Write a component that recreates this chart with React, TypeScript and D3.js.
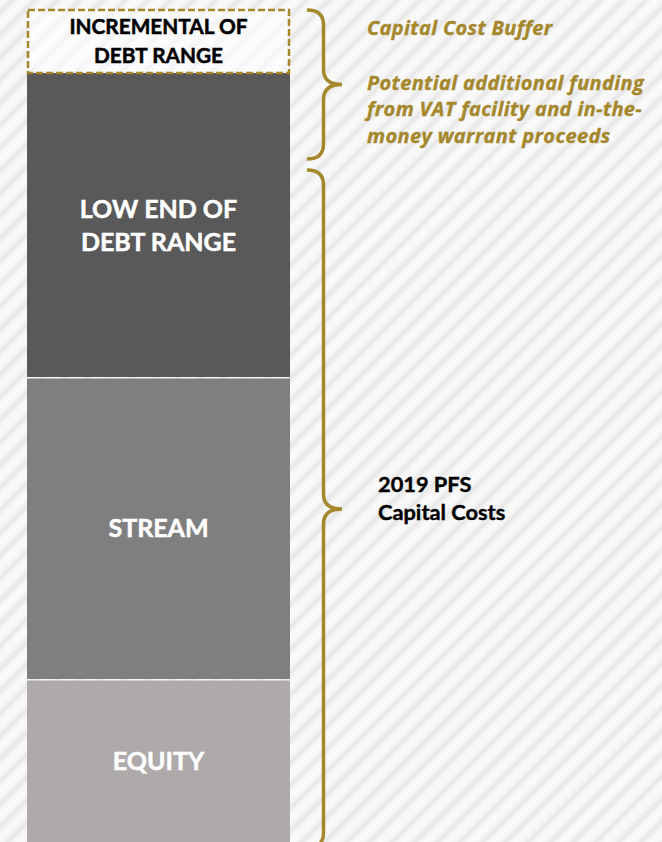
import React from "react";
import * as d3 from "d3";

const W = 662;
const H = 842;

// Stacked funding segments (bottom to top), in arbitrary capital units
const segments = ["EQUITY", "STREAM", "LOW END OF DEBT RANGE", "INCREMENTAL OF DEBT RANGE"];
const segmentValues = [163, 302, 304, 64];
const segmentLabels = [["EQUITY"], ["STREAM"], ["LOW END OF", "DEBT RANGE"], ["INCREMENTAL OF", "DEBT RANGE"]];
const segmentColors = ["#AEAAAA", "#7F7F7F", "#595959", "none"];
const segmentText = ["#FFFFFF", "#FFFFFF", "#FFFFFF", "#000000"];

// Brace annotations: [from segment index, to segment index]
const braceRanges = [
  [3, 3],
  [0, 2],
];
const braceTexts = [
  ["Capital Cost Buffer", "", "Potential additional funding", "from VAT facility and in-the-", "money warrant proceeds"],
  ["2019 PFS", "Capital Costs"],
];

const GOLD = "#A5872C";

export default function App() {
  const total = d3.sum(segmentValues);
  const y = d3.scaleLinear().domain([0, total]).range([H, 9]);
  const x = d3.scaleBand().domain(["bar"]).range([27, 290]).padding(0);
  const bx = x("bar")!;
  const bw = x.bandwidth();
  const cx = bx + bw / 2;

  const cum = [0, ...d3.cumsum(segmentValues)];
  const stacks = segmentValues.map((v, i) => ({
    y0: y(cum[i]),
    y1: y(cum[i + 1]),
  }));

  const bracePath = (top: number, bottom: number, x0: number, x1: number, x2: number, r: number) => {
    const mid = (top + bottom) / 2;
    const p = d3.path();
    p.moveTo(x0, top);
    p.quadraticCurveTo(x1, top, x1, top + r);
    p.lineTo(x1, mid - r);
    p.quadraticCurveTo(x1, mid, x2, mid);
    p.quadraticCurveTo(x1, mid, x1, mid + r);
    p.lineTo(x1, bottom - r);
    p.quadraticCurveTo(x1, bottom, x0, bottom);
    return p.toString();
  };

  const font = "Lato, 'Open Sans', sans-serif";
  const italicFont = "'Open Sans', Lato, sans-serif";

  return (
    <div style={{ position: "absolute", left: 0, top: 0, width: W, height: H, overflow: "hidden" }}>
      <svg width={W} height={H} style={{ display: "block" }}>
        <defs>
          <linearGradient id="stripeGrad" x1="0" x2="1" y1="0" y2="0">
            <stop offset="0" stopColor="#FAFAFA" />
            <stop offset="0.3" stopColor="#F6F6F6" />
            <stop offset="0.55" stopColor="#E6E6E6" />
            <stop offset="0.8" stopColor="#F6F6F6" />
            <stop offset="1" stopColor="#FAFAFA" />
          </linearGradient>
          <pattern id="stripes" width="16" height="16" patternUnits="userSpaceOnUse" patternTransform="rotate(45)">
            <rect width="16" height="16" fill="url(#stripeGrad)" />
          </pattern>
        </defs>
        <rect width={W} height={H} fill="url(#stripes)" />

        {stacks.map((s, i) => {
          const top = s.y1;
          const bottom = s.y0;
          const isDashed = segmentColors[i] === "none";
          return (
            <g key={segments[i]}>
              {isDashed ? (
                <rect
                  x={bx + 1}
                  y={top + 1}
                  width={bw - 2}
                  height={bottom - top - 1}
                  fill="#FFFFFF"
                  fillOpacity={0.55}
                  stroke={GOLD}
                  strokeWidth={2.5}
                  strokeDasharray="7 3"
                />
              ) : (
                <rect x={bx} y={top + (i === 2 ? 0 : 1.5)} width={bw} height={bottom - top - (i === 2 ? 0 : 1.5)} fill={segmentColors[i]} />
              )}
            </g>
          );
        })}

        {stacks.map((s, i) => {
          const mid = (s.y0 + s.y1) / 2;
          const fs = i === 3 ? 20.8 : 25;
          const ls = i === 3 ? 29.4 : 33;
          const cap = fs * 0.72;
          const lines = segmentLabels[i];
          return (
            <text
              key={"l" + i}
              textAnchor="middle"
              fontFamily={font}
              fontWeight={700}
              fontSize={fs}
              fill={segmentText[i]}
              stroke={segmentText[i]}
              strokeWidth={0.5}
            >
              {lines.map((t, j) => (
                <tspan key={j} x={cx} y={mid + cap / 2 + (j - (lines.length - 1) / 2) * ls}>
                  {t}
                </tspan>
              ))}
            </text>
          );
        })}

        {braceRanges.map(([a, b], i) => {
          const top = i === 0 ? 10 : 170;
          const bottom = i === 0 ? 159 : 848;
          return (
            <path
              key={"b" + i}
              d={bracePath(top, bottom, 307, 323.5, 342, 15)}
              fill="none"
              stroke={GOLD}
              strokeWidth={3.5}
            />
          );
        })}

        <text
          fontFamily={italicFont}
          fontWeight={700}
          fontStyle="italic"
          fontSize={20}
          letterSpacing={0.35}
          fill={GOLD}
          stroke={GOLD}
          strokeWidth={0.35}
        >
          {braceTexts[0].map((t, j) => (
            <tspan key={j} x={367} y={35 + (j === 0 ? 0 : 54.5 + (j - 2) * 26.5)}>
              {t}
            </tspan>
          ))}
        </text>

        <text fontFamily={font} fontWeight={700} fontSize={21.8} fill="#000000" stroke="#000000" strokeWidth={0.4}>
          {braceTexts[1].map((t, j) => (
            <tspan key={j} x={378} y={492 + j * 28}>
              {t}
            </tspan>
          ))}
        </text>
      </svg>
    </div>
  );
}
